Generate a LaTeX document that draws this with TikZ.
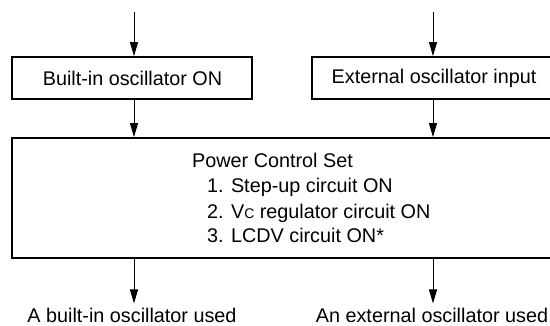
\documentclass[tikz,border=0pt]{standalone}
\usepackage{fontspec}
\setmainfont{Liberation Sans}
\usetikzlibrary{arrows.meta}
\begin{document}
\begin{tikzpicture}[x=1pt,y=-1pt,
  box/.style={draw,line width=1.8pt,inner sep=0pt},
  txt/.style={inner sep=0pt,anchor=base west,font=\fontsize{19.8}{24}\selectfont},
  lbl/.style={inner sep=4pt,anchor=base,font=\fontsize{19.8}{24}\selectfont},
  arr/.style={line width=1pt,-{Triangle[length=14pt,width=8pt]}},
  font=\fontsize{19.8}{24}\selectfont]
\clip (0,0) rectangle (550,325);
\fill[white] (0,0) rectangle (550,325);
% boxes
\node[box,minimum width=240pt,minimum height=42pt] (b1) at (132,78) {};
\node (b1t) at (132.5,78) {Built-in oscillator ON};
\node[box,minimum width=240pt,minimum height=42pt] (b2) at (432,78) {};
\node (b2t) at (434,78) {External oscillator input};
\node[box,minimum width=540pt,minimum height=120pt] (big) at (282,198) {};
\node[txt] (t0) at (192,167) {Power Control Set};
\node[txt] (t1) at (207,192) {1. Step-up circuit ON};
\node[txt] (t2) at (207,218) {2. V{\fontsize{14}{14}\selectfont C} regulator circuit ON};
\node[txt] (t3) at (207,242) {3. LCDV circuit ON*};
% labels
\node[lbl] (l1) at (132,322) {A built-in oscillator used};
\node[lbl] (l2) at (432,322) {An external oscillator used};
% free ends
\coordinate (s1) at (134,12);
\coordinate (s2) at (433,12);
% arrows
\draw[arr] (s1) -- (s1 |- b1.north);
\draw[arr] (s2) -- (s2 |- b2.north);
\draw[arr] (s1 |- b1.south) -- (s1 |- big.north);
\draw[arr] (s2 |- b2.south) -- (s2 |- big.north);
\draw[arr] (s1 |- big.south) -- (s1 |- l1.north);
\draw[arr] (s2 |- big.south) -- (s2 |- l2.north);
\end{tikzpicture}
\end{document}
